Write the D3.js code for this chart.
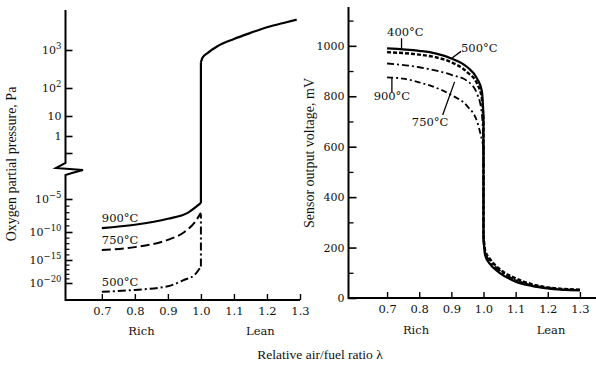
<!DOCTYPE html>
<html>
<head>
<meta charset="utf-8">
<script src="https://d3js.org/d3.v7.min.js"></script>
<style>
  body { margin: 0; background: #fff; }
</style>
</head>
<body>
<svg id="chart" width="596" height="365"></svg>
<script>
// ---- data ----
var lambdaTicks = [0.7, 0.8, 0.9, 1.0, 1.1, 1.2, 1.3]

// left panel: log10 of oxygen partial pressure (Pa)
var pMajor = [-20, -15, -10, -5, -1, 0, 1, 2, 3]
var pLabels = {"-20": ["10", "-20"], "-15": ["10", "-15"], "-10": ["10", "-10"], "-5": ["10", "-5"],
  "0": ["1", ""], "1": ["10", ""], "2": ["10", "2"], "3": ["10", "3"]}
var pMinor = [-19, -18, -17, -16, -14, -13, -12, -11, -9, -8, -7, -6]

var o2_900 = [[0.7, -9.4], [0.8, -8.9], [0.9, -8.0], [0.96, -7.1], [1.0, -5.6], [1.0, 2.68],
  [1.005, 2.8], [1.02, 2.92], [1.05, 3.1], [1.1, 3.29], [1.15, 3.45], [1.2, 3.6], [1.25, 3.71], [1.29, 3.8]]
var o2_750 = [[0.7, -13.2], [0.8, -12.7], [0.9, -11.4], [0.95, -10.0], [0.98, -8.6], [1.0, -7.1]]
var o2_500 = [[0.7, -21.9], [0.8, -21.5], [0.9, -20.7], [0.95, -19.3], [0.98, -18.3], [1.0, -16.4], [1.0, -7.3]]

// right panel: sensor voltage (mV)
var voltMajor = [0, 200, 400, 600, 800, 1000]
var voltMinor = [100, 300, 500, 700, 900, 1100]

var v400 = [[0.7, 990], [0.8, 980], [0.85, 970], [0.9, 950], [0.95, 915], [0.98, 870], [0.995, 820], [1.0, 720],
  [1.0, 240], [1.005, 170], [1.02, 135], [1.05, 100], [1.1, 65], [1.15, 48], [1.2, 38], [1.3, 30]]
var v500 = [[0.7, 975], [0.8, 965], [0.85, 955], [0.9, 935], [0.95, 895], [0.98, 850], [0.995, 790], [1.0, 700],
  [1.0, 250], [1.005, 190], [1.02, 155], [1.05, 115], [1.1, 78], [1.15, 55], [1.2, 42], [1.3, 33]]
var v750 = [[0.7, 930], [0.8, 915], [0.9, 885], [0.95, 860], [0.98, 810], [0.995, 730], [1.0, 600],
  [1.0, 230], [1.005, 180], [1.02, 148], [1.05, 110], [1.1, 72], [1.15, 52], [1.2, 40], [1.3, 32]]
var v900 = [[0.7, 875], [0.75, 870], [0.8, 855], [0.85, 835], [0.9, 805], [0.95, 760], [0.98, 700], [1.0, 600],
  [1.0, 220], [1.005, 175], [1.02, 142], [1.05, 105], [1.1, 70], [1.15, 50], [1.2, 39], [1.3, 31]]

var SERIF = "'DejaVu Serif', serif"
var TIMES = "'Liberation Serif', serif"
var svg = d3.select("#chart")

// ---- scales ----
var xL = d3.scaleLinear().domain([0.59, 1.3]).range([65.5, 300])
// piecewise log axis (the printed axis is not evenly spaced)
var yL = d3.scaleLinear()
  .domain([-25, -20, -15, -10, -5, -1, 0, 1, 2, 3, 4])
  .range([306, 283, 260, 232, 199, 153, 136, 116, 88, 50, 12])
var xR = d3.scaleLinear().domain([0.58, 1.35]).range([348.5, 596])
var yR = d3.scaleLinear().domain([0, 1150]).range([298, 8])

// split a series where lambda repeats (the vertical jump) so each run can be smoothed
function smoothPath(data, x, y) {
  var runs = [[data[0]]]
  for (var i = 1; i < data.length; i++) {
    var last = runs[runs.length - 1]
    if (data[i][0] === data[i - 1][0]) {
      runs.push([data[i - 1], data[i]], [data[i]])
    } else last.push(data[i])
  }
  var mono = d3.line().x(d => x(d[0])).y(d => y(d[1])).curve(d3.curveMonotoneX)
  var lin = d3.line().x(d => x(d[0])).y(d => y(d[1]))
  return runs.filter(r => r.length > 1).map(r => r[0][0] === r[r.length - 1][0] ? lin(r) : mono(r)).join("")
}

function serif(g, size) {
  g.attr("font-family", SERIF).attr("font-size", size)
  g.selectAll("text").style("font-family", SERIF).attr("fill", "#111")
}

// ---- left axes ----
var axL = svg.append("g")
axL.append("path")
  .attr("d", "M65.5,10V163L56,168L83,170L72,173L65.5,175V300H300")
  .attr("fill", "none").attr("stroke", "#000").attr("stroke-width", 2)

var gyL = axL.append("g").attr("transform", "translate(65.5,0)")
  .call(d3.axisLeft(yL).tickValues(pMajor).tickSizeInner(-7).tickSizeOuter(0).tickPadding(4).tickFormat(""))
gyL.select(".domain").remove()
gyL.selectAll("line").attr("stroke-width", 1.6)
gyL.selectAll(".tick text").each(function(d) {
  var lab = pLabels[d]
  if (!lab) return
  var t = d3.select(this)
  t.append("tspan").text(lab[0])
  if (lab[1]) t.append("tspan").attr("dy", -5).attr("font-size", 8.5).text(lab[1].replace("-", "\u2212"))
})
serif(gyL, 11)
axL.append("g").attr("transform", "translate(65.5,0)")
  .call(d3.axisLeft(yL).tickValues(pMinor).tickSizeInner(-4).tickSizeOuter(0).tickFormat(""))
  .call(g => g.select(".domain").remove())
  .selectAll("line").attr("stroke-width", 1.2)

var gxL = axL.append("g").attr("transform", "translate(0,300)")
  .call(d3.axisBottom(xL).tickValues(lambdaTicks).tickSizeInner(-6).tickSizeOuter(0).tickPadding(7).tickFormat(d3.format(".1f")))
gxL.select(".domain").remove()
gxL.selectAll("line").attr("stroke-width", 1.4)
serif(gxL, 11.5)

// ---- right axes ----
var axR = svg.append("g")
axR.append("path").attr("d", "M348.5,7V298H596")
  .attr("fill", "none").attr("stroke", "#000").attr("stroke-width", 2)
var gyR = axR.append("g").attr("transform", "translate(348.5,0)")
  .call(d3.axisLeft(yR).tickValues(voltMajor).tickSizeInner(-8).tickSizeOuter(0).tickPadding(4).tickFormat(d3.format("d")))
gyR.select(".domain").remove()
gyR.selectAll("line").attr("stroke-width", 1.6)
serif(gyR, 11)
axR.append("g").attr("transform", "translate(348.5,0)")
  .call(d3.axisLeft(yR).tickValues(voltMinor).tickSizeInner(-5).tickSizeOuter(0).tickFormat(""))
  .call(g => g.select(".domain").remove())
  .selectAll("line").attr("stroke-width", 1.3)
var gxR = axR.append("g").attr("transform", "translate(0,298)")
  .call(d3.axisBottom(xR).tickValues(lambdaTicks).tickSizeInner(-6).tickSizeOuter(0).tickPadding(7).tickFormat(d3.format(".1f")))
gxR.select(".domain").remove()
gxR.selectAll("line").attr("stroke-width", 1.4)
serif(gxR, 11.5)

// ---- curves ----
function curve(data, x, y, dash, w) {
  svg.append("path").attr("d", smoothPath(data, x, y))
    .attr("fill", "none").attr("stroke", "#000")
    .attr("stroke-width", w).attr("stroke-dasharray", dash)
    .attr("stroke-linejoin", "round")
}
curve(o2_900, xL, yL, null, 2.2)
curve(o2_750, xL, yL, "9,4", 2)
curve(o2_500, xL, yL, "8,3,2,3", 2)

curve(v900, xR, yR, "6,3,2,3", 1.8)
curve(v750, xR, yR, "7,3,2,3", 1.8)
curve(v400, xR, yR, null, 2.2)
curve(v500, xR, yR, "4,2", 2.4)

// ---- annotations ----
function label(x, y, s, anchor, size, fam) {
  svg.append("text").attr("x", x).attr("y", y).attr("font-size", size || 11.5)
    .style("font-family", fam || SERIF).attr("fill", "#111")
    .attr("text-anchor", anchor || "start").text(s)
}
label(xL(0.7), yL(o2_900[0][1]) - 6, "900°C")
label(xL(0.7), yL(o2_750[0][1]) - 6, "750°C")
label(xL(0.7), yL(o2_500[0][1]) - 6, "500°C")

function leader(x1, y1, x2, y2) {
  svg.append("line").attr("x1", x1).attr("y1", y1).attr("x2", x2).attr("y2", y2)
    .attr("stroke", "#000").attr("stroke-width", 1.3)
}
label(xR(0.7), yR(1040), "400°C")
leader(xR(0.745), yR(1030), xR(0.745), yR(990))
label(xR(0.93), yR(975), "500°C")
leader(xR(0.93), yR(978), xR(0.9), yR(950))
label(xR(0.715), yR(785), "900°C", "middle")
leader(xR(0.715), yR(875), xR(0.715), yR(815))
label(xR(0.777), yR(682), "750°C")
leader(xR(0.873), yR(726), xR(0.91), yR(857))

// Rich / Lean
label(xL(0.82), 335, "Rich", "middle")
label(xL(1.18), 335, "Lean", "middle")
label(xR(0.79), 334, "Rich", "middle")
label(xR(1.21), 334, "Lean", "middle")

// axis titles
svg.append("text").attr("transform", "translate(16,164) rotate(-90)")
  .style("font-family", TIMES).attr("fill", "#111")
  .attr("text-anchor", "middle").attr("font-size", 14).text("Oxygen partial pressure, Pa")
svg.append("text").attr("transform", "translate(314,153) rotate(-90)")
  .style("font-family", TIMES).attr("fill", "#111")
  .attr("text-anchor", "middle").attr("font-size", 14).text("Sensor output voltage, mV")
label(320, 359, "Relative air/fuel ratio λ", "middle", 13.5, TIMES)
</script>
</body>
</html>
